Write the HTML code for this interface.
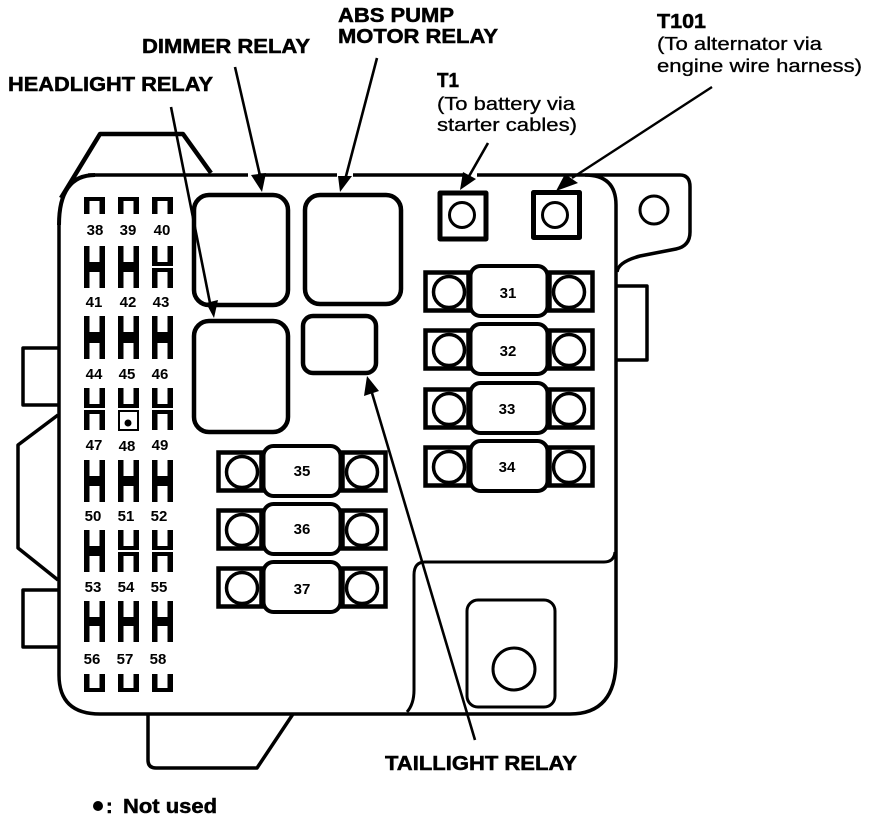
<!DOCTYPE html>
<html><head><meta charset="utf-8"><style>
html,body{margin:0;padding:0;background:#fff}
svg{display:block}
text{font-family:"Liberation Sans",sans-serif;fill:#000}
.b{font-weight:bold;stroke:#000;stroke-width:.5}
.n{font-weight:bold;font-size:15px;text-anchor:middle}
.s{font-size:18px;stroke:#000;stroke-width:.3}
</style></head><body>
<svg width="880" height="820" viewBox="0 0 880 820" xmlns="http://www.w3.org/2000/svg">
<defs>
<path id="n" d="M0 20V0H21V20H15.5V4H5.5V20Z" fill="#000"/>
<path id="u" d="M0 0V20H21V0H15.5V16H5.5V0Z" fill="#000"/>
<path id="ns" d="M0 17V0H21V17H15.5V4H5.5V17Z" fill="#000"/>
<path id="us" d="M0 0V18H21V0H15.5V14H5.5V0Z" fill="#000"/>
<g id="fR">
<rect x="2.5" y="8.5" width="43" height="38" fill="none" stroke="#000" stroke-width="4.5"/>
<rect x="126.5" y="8.5" width="43" height="38" fill="none" stroke="#000" stroke-width="4.5"/>
<circle cx="26" cy="28" r="15.5" fill="#fff" stroke="#000" stroke-width="3.5"/>
<circle cx="146" cy="28" r="15.5" fill="#fff" stroke="#000" stroke-width="3.5"/>
<rect x="47.5" y="2" width="77" height="50" rx="10" fill="#fff" stroke="#000" stroke-width="4"/>
</g>
</defs>
<g fill="none" stroke="#000" stroke-linejoin="round">
<!-- top tab -->
<path d="M61 198L100 134H183L211 173" stroke-width="4.5"/>
<!-- left tabs -->
<path d="M58 348H23V405H58" stroke-width="3.5"/>
<path d="M58 415L18 445V548L58 580" stroke-width="3.5"/>
<path d="M58 590H23V647H58" stroke-width="3.5"/>
<!-- bottom tab -->
<path d="M148 714V760Q148 768 156 768H257L293 714" stroke-width="3.5"/>
<!-- body -->
<path d="M59 225Q59 175 95 175" stroke-width="4"/>
<path d="M59 225V675Q59 714 100 714H570Q616 714 616 660V205Q616 175 585 175" stroke-width="3.5"/>
<path d="M88 175H248M258 175H337M353 175H463M477 175H680Q690 175 690 187V232Q690 246 676 249L640 256Q618 262 617 272" stroke-width="3.5"/>
<!-- right tab -->
<path d="M617 286H647V360H617" stroke-width="3.5"/>
<circle cx="654" cy="210" r="14" stroke-width="3"/>
<!-- lower-right panel -->
<path d="M615 552Q614 562 604 562H425Q414 562 414 575V690Q414 704 407 712" stroke-width="3"/>
<rect x="467" y="600" width="88" height="107" rx="11" stroke-width="3"/>
<circle cx="514" cy="669" r="21" stroke-width="3"/>
<!-- relays -->
<rect x="194" y="195" width="94" height="110" rx="15" stroke-width="4.5"/>
<rect x="194" y="321" width="94" height="111" rx="15" stroke-width="4.5"/>
<rect x="305" y="195" width="96" height="109" rx="15" stroke-width="4.5"/>
<rect x="303" y="316" width="73" height="57" rx="10" stroke-width="4.5"/>
<!-- T terminals -->
<rect x="440" y="193" width="46" height="46" stroke-width="5"/>
<rect x="533.5" y="192.5" width="46" height="45" stroke-width="5"/>
<circle cx="462" cy="215" r="12.5" stroke-width="3"/>
<circle cx="555" cy="215" r="12.5" stroke-width="3"/>
</g>
<!-- big fuses -->
<use href="#fR" x="423" y="264"/>
<use href="#fR" x="423" y="322"/>
<use href="#fR" x="423" y="381"/>
<use href="#fR" x="423" y="439"/>
<use href="#fR" x="216" y="444"/>
<use href="#fR" x="216" y="502"/>
<use href="#fR" x="216" y="560"/>
<text class="n" x="508" y="298">31</text><text class="n" x="508" y="356">32</text>
<text class="n" x="507" y="414">33</text><text class="n" x="507" y="472">34</text>
<text class="n" x="302" y="476">35</text><text class="n" x="302" y="534">36</text>
<text class="n" x="302" y="594">37</text>
<!-- small fuse slots -->
<use href="#ns" x="84" y="197"/><use href="#ns" x="118" y="197"/><use href="#ns" x="152" y="197"/>
<use href="#u" x="84" y="246"/><use href="#u" x="118" y="246"/><use href="#u" x="152" y="246"/>
<use href="#n" x="84" y="268"/><use href="#n" x="118" y="268"/><use href="#n" x="152" y="268"/>
<use href="#u" x="84" y="316"/><use href="#u" x="118" y="316"/><use href="#u" x="152" y="316"/>
<use href="#n" x="84" y="339"/><use href="#n" x="118" y="339"/><use href="#n" x="152" y="339"/>
<use href="#u" x="84" y="388"/><use href="#u" x="118" y="388"/><use href="#u" x="152" y="388"/>
<use href="#n" x="84" y="410"/><use href="#n" x="152" y="410"/>
<path d="M118 410H139V431H118Z M120 412V429H137V412Z" fill="#000" fill-rule="evenodd"/>
<circle cx="128" cy="423" r="3.5" fill="#000"/>
<use href="#u" x="84" y="460"/><use href="#u" x="118" y="460"/><use href="#u" x="152" y="460"/>
<use href="#n" x="84" y="482"/><use href="#n" x="118" y="482"/><use href="#n" x="152" y="482"/>
<use href="#u" x="84" y="530"/><use href="#u" x="118" y="530"/><use href="#u" x="152" y="530"/>
<use href="#n" x="84" y="552"/><use href="#n" x="118" y="552"/><use href="#n" x="152" y="552"/>
<use href="#u" x="84" y="601"/><use href="#u" x="118" y="601"/><use href="#u" x="152" y="601"/>
<use href="#n" x="84" y="622"/><use href="#n" x="118" y="622"/><use href="#n" x="152" y="622"/>
<use href="#us" x="84" y="674"/><use href="#us" x="118" y="674"/><use href="#us" x="152" y="674"/>
<g fill="#000">
<rect x="84" y="263" width="21" height="7"/><rect x="118" y="263" width="21" height="7"/>
<rect x="84" y="333" width="21" height="9"/><rect x="118" y="333" width="21" height="9"/><rect x="152" y="333" width="21" height="9"/>
<rect x="84" y="476" width="21" height="9"/><rect x="118" y="476" width="21" height="9"/><rect x="152" y="476" width="21" height="9"/>
<rect x="84" y="546" width="21" height="9"/>
<rect x="84" y="617" width="21" height="8"/><rect x="118" y="617" width="21" height="8"/><rect x="152" y="617" width="21" height="8"/>
</g>
<!-- fuse numbers -->
<text class="n" x="95" y="235">38</text><text class="n" x="128" y="235">39</text><text class="n" x="162" y="235">40</text>
<text class="n" x="94" y="307">41</text><text class="n" x="128" y="307">42</text><text class="n" x="161" y="307">43</text>
<text class="n" x="94" y="379">44</text><text class="n" x="127" y="379">45</text><text class="n" x="160" y="379">46</text>
<text class="n" x="94" y="450">47</text><text class="n" x="127" y="451">48</text><text class="n" x="160" y="450">49</text>
<text class="n" x="93" y="521">50</text><text class="n" x="126" y="521">51</text><text class="n" x="159" y="521">52</text>
<text class="n" x="93" y="592">53</text><text class="n" x="126" y="592">54</text><text class="n" x="159" y="592">55</text>
<text class="n" x="92" y="664">56</text><text class="n" x="125" y="664">57</text><text class="n" x="158" y="664">58</text>
<!-- leader lines -->
<g stroke="#000" stroke-width="2.6" fill="none">
<path d="M171 107L210 303"/>
<path d="M235 67L261 180"/>
<path d="M377 58L345 180"/>
<path d="M488 143L468 178"/>
<path d="M712 87L572 178" stroke-width="2.4"/>
<path d="M372 393L475 740"/>
</g>
<g fill="#000">
<path d="M206 303L218 300L214 318Z"/>
<path d="M251 175L266 173L262 192Z"/>
<path d="M338 176L352 176L340 192Z"/>
<path d="M463 172L476 179L460 190Z"/>
<path d="M565 174L578 183L556 191Z"/>
<path d="M367 376L364 396L379 391Z"/>
</g>
<!-- labels -->
<text class="b" x="8" y="91" font-size="20" textLength="205" lengthAdjust="spacingAndGlyphs">HEADLIGHT RELAY</text>
<text class="b" x="142" y="53" font-size="20" textLength="168" lengthAdjust="spacingAndGlyphs">DIMMER RELAY</text>
<text class="b" x="338" y="22" font-size="20" textLength="116" lengthAdjust="spacingAndGlyphs">ABS PUMP</text>
<text class="b" x="338" y="43" font-size="20" textLength="160" lengthAdjust="spacingAndGlyphs">MOTOR RELAY</text>
<text class="b" x="437" y="87" font-size="20" textLength="22" lengthAdjust="spacingAndGlyphs">T1</text>
<text class="s" x="437" y="110" textLength="138" lengthAdjust="spacingAndGlyphs">(To battery via</text>
<text class="s" x="437" y="131" textLength="140" lengthAdjust="spacingAndGlyphs">starter cables)</text>
<text class="b" x="657" y="28" font-size="20" textLength="49" lengthAdjust="spacingAndGlyphs">T101</text>
<text class="s" x="657" y="50" textLength="165" lengthAdjust="spacingAndGlyphs">(To alternator via</text>
<text class="s" x="657" y="72" textLength="205" lengthAdjust="spacingAndGlyphs">engine wire harness)</text>
<text class="b" x="385" y="770" font-size="20" textLength="192" lengthAdjust="spacingAndGlyphs">TAILLIGHT RELAY</text>
<circle cx="98" cy="806" r="5" fill="#000"/>
<text class="b" x="106" y="813" font-size="20">:</text>
<text class="b" x="123" y="813" font-size="20" textLength="94" lengthAdjust="spacingAndGlyphs">Not used</text>
</svg>
</body></html>
